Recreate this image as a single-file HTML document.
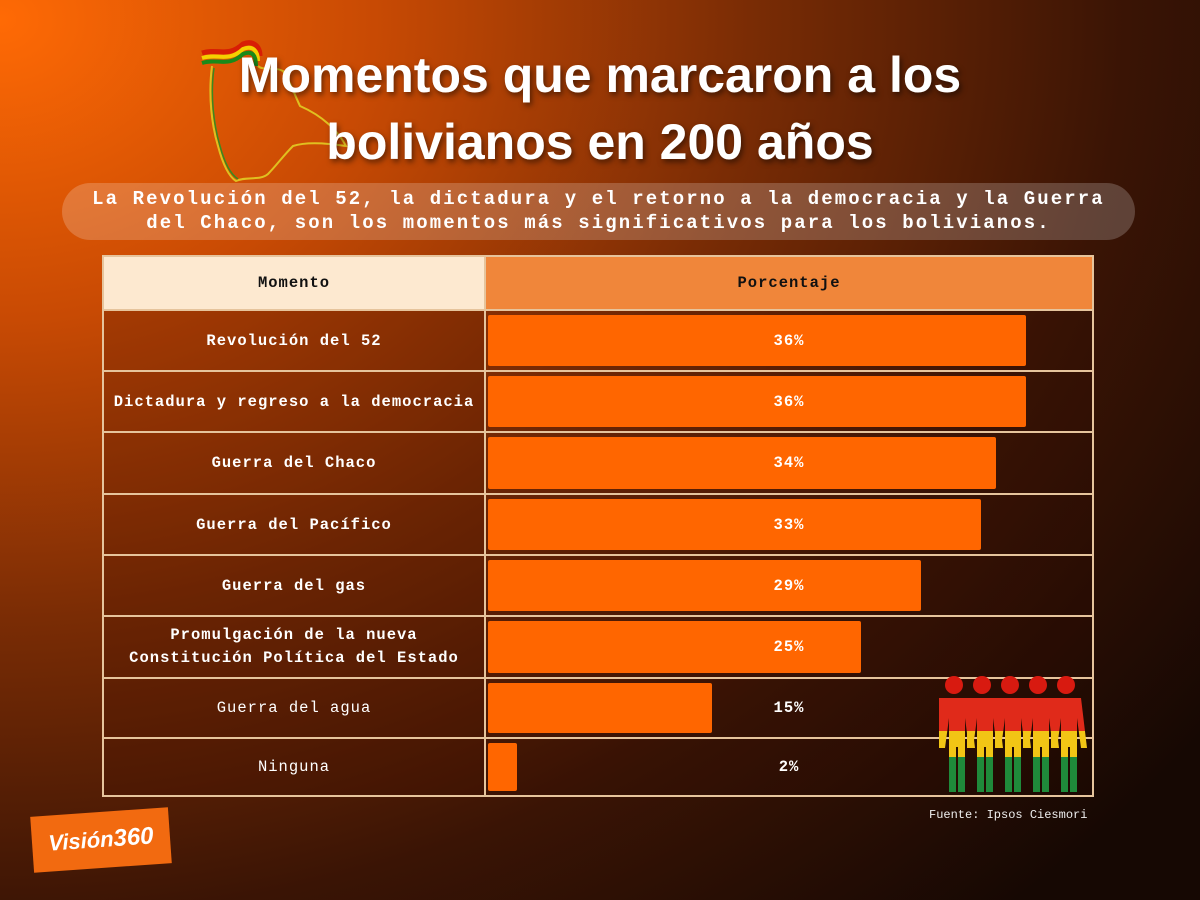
<!DOCTYPE html>
<html><head><meta charset="utf-8"><style>
body{margin:0;width:1200px;height:900px;overflow:hidden;font-family:"Liberation Mono",monospace;
background:radial-gradient(ellipse 1500px 1200px at 0px 20px,#ff6a05 0%,#c84a04 25%,#7a2c05 50%,#3a1405 75%,#160803 100%);position:relative}
.t{position:absolute;left:0;width:1200px;text-align:center;font-family:"Liberation Sans",sans-serif;font-weight:bold;color:#fff;font-size:50px;text-shadow:2px 3px 6px rgba(0,0,0,.5)}
.pill{position:absolute;left:62px;top:183px;width:1073px;height:57px;border-radius:29px;background:rgba(255,255,255,.2)}
.sub{position:absolute;left:62px;top:187px;width:1073px;text-align:center;color:#fff;font-weight:bold;font-size:19px;line-height:24px;letter-spacing:2.1px}
table{position:absolute;left:102px;top:255px;border-collapse:collapse;width:992px}
td{border:2px solid #e6c49c;padding:0;font-weight:bold;color:#fff;font-size:15.5px;letter-spacing:1px;text-align:center;position:relative}
td.l{width:380px;background:rgba(60,10,0,.25)}
td.r{background:rgba(40,10,0,.15)}
.bar{position:absolute;left:2px;top:4px;bottom:4px;background:#ff6600;border-radius:2px}
.v{position:relative}
.n{font-weight:normal}
</style></head><body>
<svg style="position:absolute;left:198px;top:36px" width="160" height="150">
<path d="M4 17 C20 12 30 22 45 8 C55 4 62 10 62 20" stroke="#d81e05" stroke-width="5" fill="none"/>
<path d="M4 22 C20 17 30 27 45 13 C55 9 60 15 60 25" stroke="#f5d000" stroke-width="4" fill="none"/>
<path d="M4 27 C20 22 30 32 45 18 C55 14 58 20 58 30" stroke="#1a8a1a" stroke-width="4" fill="none"/>
<path d="M14 30 C10 60 14 90 20 110 C24 125 30 140 38 145 C48 140 62 145 70 138 C78 130 85 120 95 110 C110 105 135 108 148 110 C140 95 125 80 102 70 C95 55 92 45 85 35 C75 30 65 35 60 30" stroke="#e0c020" stroke-width="2" fill="none"/>
<path d="M16 32 C12 60 16 90 22 110 C26 125 32 138 40 143" stroke="#3a8a20" stroke-width="1.5" fill="none"/>
</svg>
<div class="t" style="top:46px">Momentos que marcaron a los</div>
<div class="t" style="top:113px">bolivianos en 200 años</div>
<div class="pill"></div>
<div class="sub">La Revolución del 52, la dictadura y el retorno a la democracia y la Guerra<br>del Chaco, son los momentos más significativos para los bolivianos.</div>
<table>
<tr style="height:54px"><td class="l" style="background:#fde9d0;color:#111">Momento</td><td style="background:#f0863a;color:#111">Porcentaje</td></tr>
<tr style="height:61px"><td class="l">Revolución del 52</td><td class="r"><div class="bar" style="width:538px"></div><span class="v">36%</span></td></tr>
<tr style="height:61px"><td class="l">Dictadura y regreso a la democracia</td><td class="r"><div class="bar" style="width:538px"></div><span class="v">36%</span></td></tr>
<tr style="height:62px"><td class="l">Guerra del Chaco</td><td class="r"><div class="bar" style="width:508px"></div><span class="v">34%</span></td></tr>
<tr style="height:61px"><td class="l">Guerra del Pacífico</td><td class="r"><div class="bar" style="width:493px"></div><span class="v">33%</span></td></tr>
<tr style="height:61px"><td class="l">Guerra del gas</td><td class="r"><div class="bar" style="width:433px"></div><span class="v">29%</span></td></tr>
<tr style="height:62px"><td class="l" style="line-height:23px">Promulgación de la nueva<br>Constitución Política del Estado</td><td class="r"><div class="bar" style="width:373px"></div><span class="v">25%</span></td></tr>
<tr style="height:60px"><td class="l n">Guerra del agua</td><td class="r"><div class="bar" style="width:224px"></div><span class="v">15%</span></td></tr>
<tr style="height:58px"><td class="l n">Ninguna</td><td class="r"><div class="bar" style="width:29px"></div><span class="v">2%</span></td></tr>
</table>
<svg style="position:absolute;left:925px;top:672px" width="170" height="125">
<defs><linearGradient id="f" x1="0" y1="0" x2="0" y2="1">
<stop offset="0" stop-color="#e02a1a"/><stop offset=".35" stop-color="#e02a1a"/><stop offset=".35" stop-color="#f2c515"/><stop offset=".63" stop-color="#f2c515"/><stop offset=".63" stop-color="#1f8a3a"/><stop offset="1" stop-color="#1f8a3a"/></linearGradient></defs>
<g fill="url(#f)">
<g id="p"><circle cx="29" cy="13" r="9" fill="#d81a10"/><path d="M14 26 h30 l6 50 h-6 l-4-30 v74 h-7 v-45 h-2 v45 h-7 v-74 l-4 30 h-6 z"/></g>
<use href="#p" x="28"/><use href="#p" x="56"/><use href="#p" x="84"/><use href="#p" x="112"/>
</g></svg>
<div style="position:absolute;left:929px;top:808px;color:#eee;font-size:12px">Fuente: Ipsos Ciesmori</div>
<div style="position:absolute;left:32px;top:812px;width:138px;height:56px;background:#f26a10;transform:rotate(-4deg);color:#fff;font-family:'Liberation Sans',sans-serif;font-weight:bold;font-style:italic;font-size:22px;line-height:56px;text-align:center">Visión<span style="font-size:24px">360</span></div>
</body></html>
